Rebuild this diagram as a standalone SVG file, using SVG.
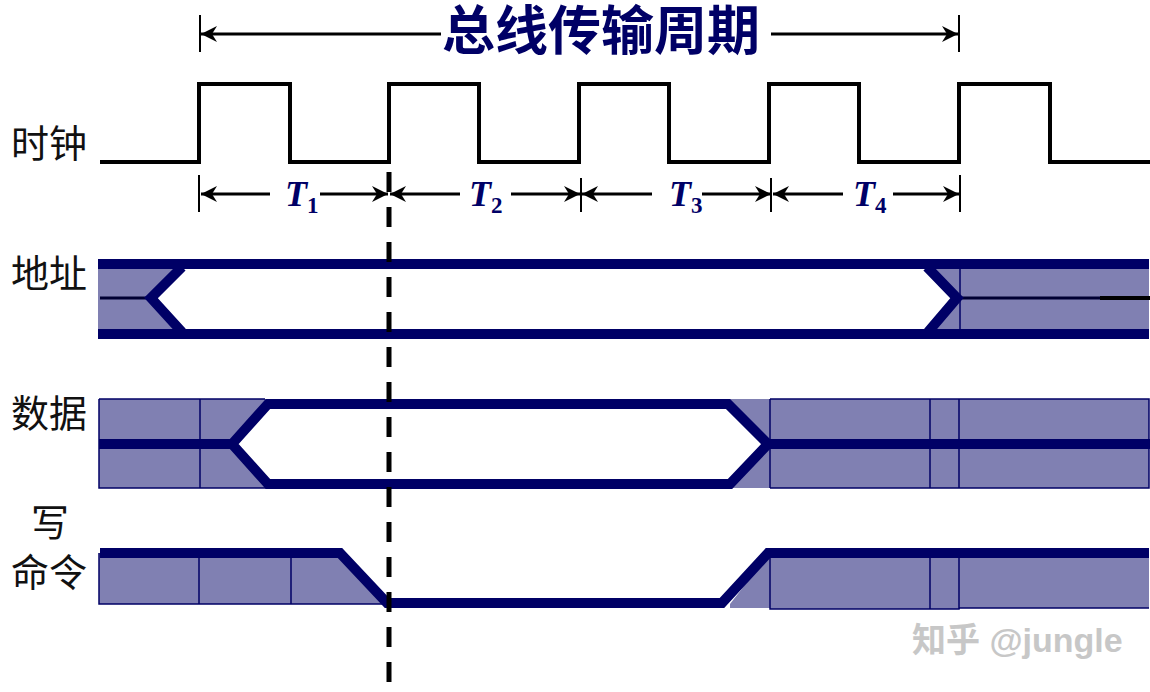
<svg xmlns="http://www.w3.org/2000/svg" width="1150" height="692" viewBox="0 0 1150 692">
<style>
.fill{fill:#8080b2}
.thin{stroke:#000066;stroke-width:1.5;fill:none}
.bus{stroke:#000066;stroke-width:10;fill:none;stroke-linejoin:miter}
.dim{stroke:#000;stroke-width:3;fill:none;marker-end:url(#a)}
.tick{stroke:#000;stroke-width:2;fill:none}
.lab{font-family:"Liberation Serif","Noto Sans CJK SC","Noto Sans CJK JP",sans-serif;font-size:38px;fill:#111}
.t{font-family:"Liberation Serif",serif;font-weight:bold;font-style:italic;font-size:36px;fill:#000066}
.s{font-style:normal;font-size:23px}
</style>
<defs>
<marker id="a" markerUnits="userSpaceOnUse" markerWidth="20" markerHeight="20" refX="17" refY="10" orient="auto">
<path d="M17 10L1 2L6 10L1 18Z" fill="#000"/>
</marker>
</defs>
<rect width="1150" height="692" fill="#fff"/>
<g id="title">
<text x="601" y="50" text-anchor="middle" font-family="Liberation Serif,Noto Sans CJK SC,sans-serif" font-weight="700" font-size="53" fill="#000066">总线传输周期</text>
</g>
<g id="clock">
<text class="lab" x="11" y="157">时钟</text>
<path d="M100 162H199V84H290V162H389V84H479V162H579V84H669V162H769V84H859V162H959V84H1050V162H1150" fill="none" stroke="#000" stroke-width="4"/>
</g>
<g id="address">
<text class="lab" x="11" y="287">地址</text>
<path class="fill" d="M98 264H188L150 298L188 339H98Z"/>
<path class="fill" d="M924 264H1149V334H928L958 298Z"/>
<path class="thin" d="M960 264V334"/>
<path d="M100 298H150" stroke="#000033" stroke-width="3"/>
<path d="M958 298H1100" stroke="#000033" stroke-width="3"/>
<path d="M1100 298H1150" stroke="#000" stroke-width="4"/>
<path class="bus" d="M98 264H1149M98 334H1149"/>
<path class="bus" d="M182 267L151 298L182 332"/>
<path class="bus" d="M927 267L957 298L928 332"/>
</g>
<g id="data">
<text class="lab" x="11" y="427">数据</text>
<path class="fill" d="M99 399H270L232 444L270 488H99Z"/>
<path class="fill" d="M726 399H1149V488H731L768 444Z"/>
<path class="thin" d="M99 399V488H270M99 399H265M200 399V488M770 399V488M930 399V488M959 399V488M770 399H1149V488H770"/>
<path class="bus" d="M99 444H232L268 404H728L768 444L730 484H268L232 444M768 444H1150"/>
</g>
<g id="write">
<text class="lab" x="31" y="536">写</text>
<text class="lab" x="11" y="586">命令</text>
<path class="fill" d="M99 553H340L388 604H99Z"/>
<path class="fill" d="M730 608V604L770 553H1149V608H960V609H770V608Z"/>
<path class="thin" d="M99 553V604H388M199 553V604M291 558V604M770 553V609H959V553M930 553V609M959 608H1149"/>
<path class="bus" d="M100 553H340L387 603H722L768 553H1149"/>
</g>
<g id="connectors">
<path d="M389 172V682" stroke="#000" stroke-width="5" stroke-dasharray="20 15" fill="none"/>
<path class="tick" d="M200 15V52M959 15V52M199 175V212M960 175V212M581 178V212M771 178V212"/>
<path class="dim" d="M270 194H201"/>
<path class="dim" d="M320 194H388"/>
<path class="dim" d="M460 194H390"/>
<path class="dim" d="M511 194H580"/>
<path class="dim" d="M652 194H582"/>
<path class="dim" d="M702 194H771"/>
<path class="dim" d="M843 194H773"/>
<path class="dim" d="M893 194H959"/>
<path class="dim" d="M441 34H201"/>
<path class="dim" d="M771 34H958"/>
</g>
<g id="periods">
<text class="t" x="285" y="206">T<tspan class="s" dy="7">1</tspan></text>
<text class="t" x="469" y="206">T<tspan class="s" dy="7">2</tspan></text>
<text class="t" x="669" y="206">T<tspan class="s" dy="7">3</tspan></text>
<text class="t" x="853" y="206">T<tspan class="s" dy="7">4</tspan></text>
</g>
<g id="watermark">
<text x="912" y="652" font-family="Liberation Sans,Noto Sans CJK SC,sans-serif" font-size="34" font-weight="700" fill="#c2c2c2" opacity=".9">知乎 @jungle</text>
</g>
</svg>
